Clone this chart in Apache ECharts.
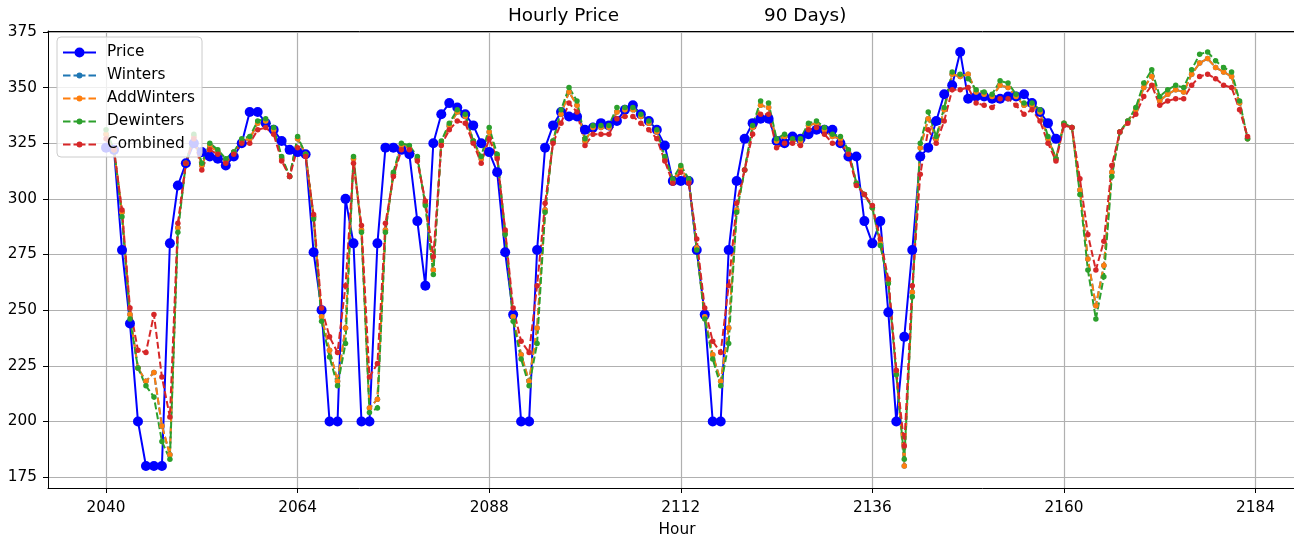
<!DOCTYPE html>
<html>
<head>
<meta charset="utf-8">
<script src="https://cdn.jsdelivr.net/npm/echarts@6/dist/echarts.min.js"></script>
<style>
  html, body { margin: 0; padding: 0; background: #fff; }
  #chart { width: 1294px; height: 538px; }
</style>
</head>
<body>
<div id="chart"></div>
<script>
var hours = [
  2040, 2041, 2042, 2043, 2044, 2045, 2046, 2047, 2048, 2049, 2050, 2051,
  2052, 2053, 2054, 2055, 2056, 2057, 2058, 2059, 2060, 2061, 2062, 2063,
  2064, 2065, 2066, 2067, 2068, 2069, 2070, 2071, 2072, 2073, 2074, 2075,
  2076, 2077, 2078, 2079, 2080, 2081, 2082, 2083, 2084, 2085, 2086, 2087,
  2088, 2089, 2090, 2091, 2092, 2093, 2094, 2095, 2096, 2097, 2098, 2099,
  2100, 2101, 2102, 2103, 2104, 2105, 2106, 2107, 2108, 2109, 2110, 2111,
  2112, 2113, 2114, 2115, 2116, 2117, 2118, 2119, 2120, 2121, 2122, 2123,
  2124, 2125, 2126, 2127, 2128, 2129, 2130, 2131, 2132, 2133, 2134, 2135,
  2136, 2137, 2138, 2139, 2140, 2141, 2142, 2143, 2144, 2145, 2146, 2147,
  2148, 2149, 2150, 2151, 2152, 2153, 2154, 2155, 2156, 2157, 2158, 2159,
  2160, 2161, 2162, 2163, 2164, 2165, 2166, 2167, 2168, 2169, 2170, 2171,
  2172, 2173, 2174, 2175, 2176, 2177, 2178, 2179, 2180, 2181, 2182, 2183
];

// actual price, only up to hour 2159
var price = [
  323, 322, 277, 244, 200, 180, 180, 180, 280, 306, 316, 325,
  321, 319, 318, 315, 319, 325, 339, 339, 334, 331, 326, 322,
  321, 320, 276, 250, 200, 200, 300, 280, 200, 200, 280, 323,
  323, 322, 320, 290, 261, 325, 338, 343, 341, 338, 333, 325,
  321, 312, 276, 248, 200, 200, 277, 323, 333, 339, 337, 337,
  331, 332, 334, 333, 335, 340, 342, 338, 335, 331, 324, 308,
  308, 308, 277, 248, 200, 200, 277, 308, 327, 334, 336, 336,
  326, 325, 328, 327, 329, 331, 331, 331, 325, 319, 319, 290,
  280, 290, 249, 200, 238, 277, 319, 323, 335, 347, 351, 366,
  345, 346, 346, 345, 345, 346, 346, 347, 343, 339, 334, 327
];

var addWinters = [
  329, 322, 294, 248, 224, 218, 222, 198, 185, 287, 316, 328,
  315, 324, 321, 317, 321, 326, 327, 334, 335, 331, 318, 310,
  327, 320, 292, 247, 232, 218, 242, 318, 286, 206, 210, 286,
  311, 324, 323, 318, 298, 268, 325, 333, 339, 337, 326, 318,
  330, 319, 285, 247, 230, 218, 242, 295, 326, 338, 348, 342,
  326, 332, 332, 332, 339, 340, 340, 337, 334, 330, 318, 308,
  314, 308, 278, 247, 230, 218, 242, 295, 313, 332, 342, 341,
  326, 328, 326, 326, 333, 334, 331, 328, 327, 321, 307, 302,
  296, 280, 263, 222, 180, 258, 323, 336, 327, 340, 356, 355,
  356, 348, 347, 346, 351, 350, 346, 342, 342, 339, 327, 318,
  334, 332, 304, 273, 252, 270, 312, 330, 335, 340, 350, 355,
  344, 347, 349, 348, 356, 361, 363, 359, 357, 355, 343, 327
];

// Winters never shows in the picture: it sits under AddWinters
var winters = addWinters.slice();

var dewinters = [
  331, 322, 292, 246, 224, 216, 211, 191, 183, 285, 316, 329,
  316, 325, 322, 318, 321, 327, 328, 335, 336, 332, 319, 310,
  328, 320, 291, 245, 229, 216, 235, 319, 285, 204, 206, 285,
  312, 325, 324, 319, 297, 266, 326, 334, 340, 338, 326, 319,
  332, 320, 284, 245, 228, 216, 235, 294, 326, 340, 350, 344,
  327, 333, 333, 333, 341, 341, 341, 338, 335, 331, 319, 309,
  315, 309, 277, 246, 228, 216, 235, 294, 313, 333, 344, 343,
  327, 329, 327, 327, 334, 335, 332, 329, 328, 322, 307, 302,
  296, 279, 262, 221, 183, 256, 325, 339, 328, 341, 357, 356,
  354, 349, 348, 347, 353, 352, 347, 343, 343, 340, 328, 318,
  334, 332, 302, 268, 246, 265, 310, 330, 335, 341, 352, 358,
  346, 349, 351, 350, 358, 365, 366, 362, 359, 357, 344, 327
];

var combined = [
  327, 322, 295, 251, 232, 231, 248, 220, 202, 289, 316, 327,
  313, 322, 320, 316, 320, 325, 325, 331, 332, 329, 317, 310,
  323, 319, 293, 251, 238, 231, 261, 316, 288, 220, 226, 289,
  310, 322, 322, 317, 299, 274, 324, 331, 335, 334, 325, 316,
  327, 318, 286, 251, 236, 231, 261, 298, 325, 334, 343, 339,
  324, 329, 329, 329, 336, 337, 337, 334, 331, 327, 317, 307,
  312, 307, 282, 251, 236, 231, 261, 298, 313, 329, 338, 338,
  323, 325, 325, 324, 331, 332, 329, 325, 325, 320, 306, 302,
  297, 282, 264, 223, 189, 261, 311, 331, 325, 335, 349, 349,
  350, 343, 342, 341, 345, 345, 342, 338, 340, 335, 325, 317,
  333, 332, 309, 284, 268, 281, 315, 330, 334, 338, 346, 351,
  342, 344, 345, 345, 351, 355, 356, 354, 351, 350, 340, 328
];

var xTicks = [2040, 2064, 2088, 2112, 2136, 2160, 2184];
var yTicks = [175, 200, 225, 250, 275, 300, 325, 350, 375];

var seriesNames = ['Price', 'Winters', 'AddWinters', 'Dewinters', 'Combined'];
var seriesColors = ['#0000ff', '#1f77b4', '#ff7f0e', '#2ca02c', '#d62728'];

function pairs(values) {
  var res = [];
  for (var i = 0; i < values.length; i++) {
    res.push([hours[i], values[i]]);
  }
  return res;
}

// legend icons: line with marker, drawn as filled paths
var boxCorners = ' M0,0L0.01,0L0.01,0.01Z M32.99,14.99L33,14.99L33,15Z';
var solidIcon = 'path://M0,6.5L33,6.5L33,8.5L0,8.5Z M11.5,7.5A5,5 0 1 1 21.5,7.5A5,5 0 1 1 11.5,7.5Z' + boxCorners;
var dashIcon = 'path://M0,6.5L7.5,6.5L7.5,8.5L0,8.5Z M10.5,6.5L22.5,6.5L22.5,8.5L10.5,8.5Z ' +
  'M25.5,6.5L33,6.5L33,8.5L25.5,8.5Z M13.5,7.5A3,3 0 1 1 19.5,7.5A3,3 0 1 1 13.5,7.5Z' + boxCorners;

var myChart = echarts.init(document.getElementById('chart'));

var series = [{
  name: 'Price',
  type: 'line',
  data: pairs(price),
  symbol: 'circle',
  symbolSize: 10,
  showAllSymbol: true,
  lineStyle: { color: seriesColors[0], width: 2 },
  itemStyle: { color: seriesColors[0] },
  emphasis: { disabled: true }
}];

[winters, addWinters, dewinters, combined].forEach(function(values, i) {
  series.push({
    name: seriesNames[i + 1],
    type: 'line',
    data: pairs(values),
    symbol: 'circle',
    symbolSize: 5.5,
    showAllSymbol: true,
    lineStyle: { color: seriesColors[i + 1], width: 2, type: [7, 3] },
    itemStyle: { color: seriesColors[i + 1] },
    emphasis: { disabled: true }
  });
});

var font = 'DejaVu Sans';
// the plot runs past the right edge of the picture, so the visible
// window ends at about hour 2188.8
var xMin = 2032.73;
var xMax = 2188.82;

var option = {
  animation: false,
  backgroundColor: '#ffffff',
  color: seriesColors,
  textStyle: { fontFamily: font },
  title: [{
    text: 'Hourly Price',
    left: 503,
    top: 2,
    textStyle: { fontFamily: font, fontSize: 18.4, fontWeight: 'normal', color: '#000' }
  }, {
    text: '90 Days)',
    left: 759,
    top: 2,
    textStyle: { fontFamily: font, fontSize: 18.4, fontWeight: 'normal', color: '#000' }
  }],
  legend: {
    orient: 'vertical',
    left: 57,
    top: 37,
    padding: [8, 7, 5, 6],
    itemGap: 8,
    itemWidth: 33,
    itemHeight: 15,
    backgroundColor: 'rgba(255,255,255,0.8)',
    borderColor: '#cccccc',
    borderWidth: 1,
    borderRadius: 4,
    itemStyle: { borderWidth: 0 },
    textStyle: { fontFamily: font, fontSize: 15.3, color: '#000', padding: [0, 0, 0, 6] },
    data: [
      { name: 'Price', icon: solidIcon },
      { name: 'Winters', icon: dashIcon },
      { name: 'AddWinters', icon: dashIcon },
      { name: 'Dewinters', icon: dashIcon },
      { name: 'Combined', icon: dashIcon }
    ]
  },
  grid: {
    left: 48,
    right: 0,
    top: 31,
    bottom: 50,
    show: false,
    containLabel: false,
    outerBoundsMode: 'none'
  },
  xAxis: [{
    type: 'value',
    min: xMin,
    max: xMax,
    name: 'Hour',
    nameLocation: 'middle',
    nameGap: 35,
    nameTextStyle: { fontFamily: font, fontSize: 15.3, color: '#000', padding: [0, 0, 0, 12] },
    axisLine: { lineStyle: { color: '#000', width: 1 } },
    axisTick: { show: true, length: 5, lineStyle: { color: '#000' }, customValues: xTicks },
    axisLabel: {
      customValues: xTicks,
      margin: 13,
      fontFamily: font,
      fontSize: 15.3,
      color: '#000',
      formatter: function(v) { return String(v); }
    },
    splitLine: { show: true, lineStyle: { color: '#b0b0b0', width: 1.2 } }
  }, {
    // top spine only
    type: 'value',
    position: 'top',
    min: xMin,
    max: xMax,
    axisLine: { show: true, onZero: false, lineStyle: { color: '#000', width: 1 } },
    axisTick: { show: false },
    axisLabel: { show: false },
    splitLine: { show: false }
  }],
  yAxis: {
    type: 'value',
    min: 170.1,
    max: 375.4,
    axisLine: { show: true, lineStyle: { color: '#000', width: 1 } },
    axisTick: { show: true, length: 5, lineStyle: { color: '#000' }, customValues: yTicks },
    axisLabel: {
      customValues: yTicks,
      margin: 11,
      fontFamily: font,
      fontSize: 15.3,
      color: '#000',
      formatter: function(v) { return String(v); }
    },
    splitLine: { show: true, lineStyle: { color: '#b0b0b0', width: 1.2 } }
  },
  series: series
};

myChart.setOption(option);
</script>
</body>
</html>
